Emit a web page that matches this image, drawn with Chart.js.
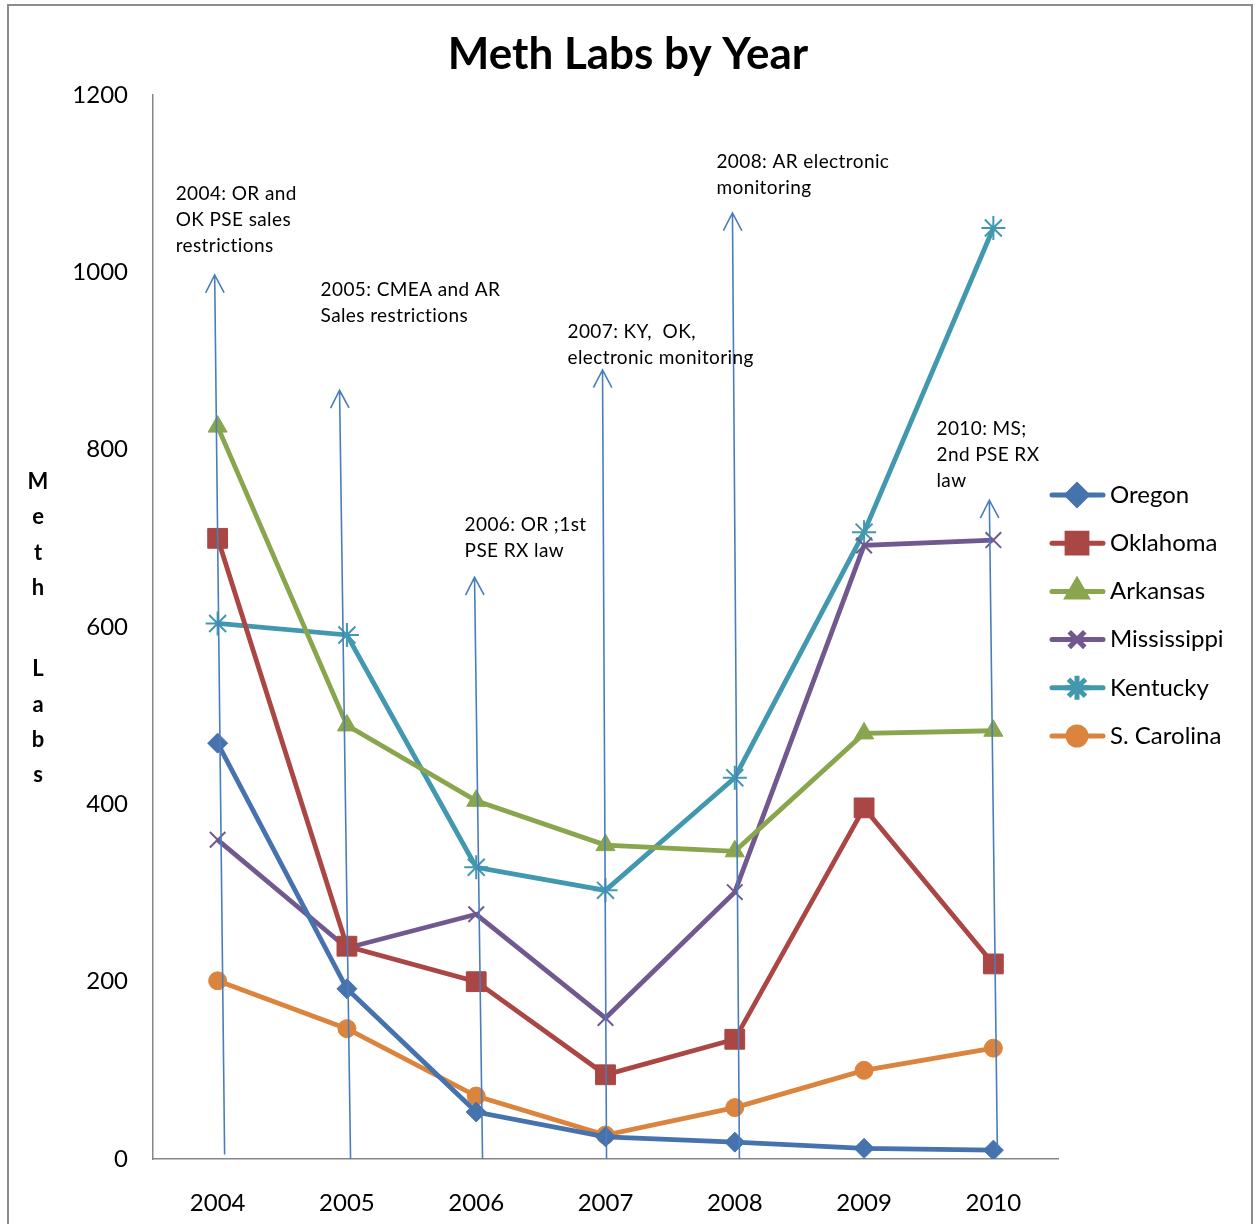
<!DOCTYPE html>
<html>
<head>
<meta charset="utf-8">
<script src="https://cdn.jsdelivr.net/npm/chart.js@4.4.1/dist/chart.umd.min.js"></script>
<style>
  html, body { margin: 0; padding: 0; background: #fff; }
  #wrap { width: 1255px; height: 1224px; position: relative; }
</style>
</head>
<body>
<div id="wrap"><canvas id="chart" width="1255" height="1224"></canvas></div>
<script>
const years = ['2004', '2005', '2006', '2007', '2008', '2009', '2010'];
const oregon = [469, 192, 53, 25, 19, 12, 10];
const oklahoma = [700, 240, 200, 95, 135, 396, 220];
const arkansas = [826, 489, 404, 354, 347, 480, 483];
const mississippi = [360, 238, 276, 159, 301, 692, 698];
const kentucky = [604, 591, 329, 303, 430, 707, 1050];
const sCarolina = [201, 147, 71, 27, 58, 100, 125];
const yTicks = [0, 200, 400, 600, 800, 1000, 1200];

// law notes: text lines plus arrow (from base to tip), x in category units
const notes = [
  { lines: ['2004: OR and', 'OK PSE sales', 'restrictions'], tx: -0.325, ty: 1088, from: [0.054, 5], to: [-0.023, 997] },
  { lines: ['2005: CMEA and AR', 'Sales restrictions'], tx: 0.796, ty: 980, from: [1.028, 0], to: [0.943, 867] },
  { lines: ['2006: OR ;1st', 'PSE RX law'], tx: 1.91, ty: 715, from: [2.049, 0], to: [1.987, 656] },
  { lines: ['2007: KY,  OK,', 'electronic monitoring'], tx: 2.706, ty: 933, from: [3.008, 0], to: [2.977, 890] },
  { lines: ['2008: AR electronic', 'monitoring'], tx: 3.858, ty: 1125, from: [4.036, 0], to: [3.982, 1067] },
  { lines: ['2010: MS;', '2nd PSE RX', 'law'], tx: 5.56, ty: 823, from: [6.031, 10], to: [5.969, 743] }
];

const FONT = 'Lato, "Open Sans", sans-serif';
const AXIS_GREY = '#868686';
const ARROW_BLUE = '#4A7EBB';

function series(label, data, color, style, radius, bw) {
  return {
    label, data,
    borderColor: color,
    backgroundColor: color,
    borderWidth: 4.8,
    pointStyle: style,
    pointRadius: radius,
    pointBorderWidth: bw,
    pointBorderColor: color,
    pointBackgroundColor: color,
    tension: 0
  };
}

function xAt(chart, v) {
  const s = chart.scales.x;
  const p0 = s.getPixelForValue(0);
  const p1 = s.getPixelForValue(1);
  return p0 + v * (p1 - p0);
}

const extras = {
  id: 'extras',
  beforeDraw(chart) {
    const ctx = chart.ctx;
    ctx.save();
    ctx.strokeStyle = '#8c8c8c';
    ctx.lineWidth = 2;
    ctx.strokeRect(8, 5, 1244, 1240);

    ctx.fillStyle = '#000';
    ctx.font = 'bold 44px ' + FONT;
    ctx.textAlign = 'center';
    ctx.textBaseline = 'middle';
    ctx.fillText('Meth Labs by Year', 628, 55);

    // stacked y-axis title
    ctx.font = 'bold 22px ' + FONT;
    const letters = ['M', 'e', 't', 'h', '', 'L', 'a', 'b', 's'];
    let y = 482;
    letters.forEach(l => {
      if (l) ctx.fillText(l, 38, y);
      y += l ? 35.3 : 46;
    });
    ctx.restore();
  },
  afterDatasetsDraw(chart) {
    const ctx = chart.ctx;
    const ys = chart.scales.y;
    ctx.save();

    // arrows
    ctx.strokeStyle = ARROW_BLUE;
    ctx.lineWidth = 1.6;
    notes.forEach(n => {
      const x1 = xAt(chart, n.from[0]), y1 = ys.getPixelForValue(n.from[1]);
      const x2 = xAt(chart, n.to[0]), y2 = ys.getPixelForValue(n.to[1]);
      ctx.beginPath();
      ctx.moveTo(x1, y1);
      ctx.lineTo(x2, y2);
      const ang = Math.atan2(y2 - y1, x2 - x1);
      const len = 20, spread = 0.48;
      ctx.moveTo(x2 - len * Math.cos(ang - spread), y2 - len * Math.sin(ang - spread));
      ctx.lineTo(x2, y2);
      ctx.lineTo(x2 - len * Math.cos(ang + spread), y2 - len * Math.sin(ang + spread));
      ctx.stroke();
    });

    // note text
    ctx.fillStyle = '#000';
    ctx.font = '19px ' + FONT;
    ctx.textAlign = 'left';
    ctx.textBaseline = 'middle';
    if ('letterSpacing' in ctx) ctx.letterSpacing = '0.4px';
    notes.forEach(n => {
      const x = xAt(chart, n.tx);
      const y0 = ys.getPixelForValue(n.ty);
      n.lines.forEach((t, i) => ctx.fillText(t, x, y0 + i * 26));
    });
    if ('letterSpacing' in ctx) ctx.letterSpacing = '0px';

    // legend
    ctx.font = '24px ' + FONT;
    chart.data.datasets.forEach((ds, i) => {
      const y = 495 + i * 48.2;
      ctx.strokeStyle = ds.borderColor;
      ctx.fillStyle = ds.borderColor;
      ctx.lineWidth = 5;
      ctx.lineCap = 'round';
      ctx.beginPath();
      ctx.moveTo(1052, y);
      ctx.lineTo(1103, y);
      ctx.stroke();
      ctx.lineCap = 'butt';
      Chart.helpers.drawPoint(ctx, {
        pointStyle: ds.pointStyle,
        radius: ds.pointRadius,
        borderWidth: ds.pointBorderWidth,
        rotation: 0
      }, 1077, y);
      ctx.fillStyle = '#000';
      ctx.fillText(ds.label, 1110, y);
    });
    ctx.restore();
  }
};

new Chart(document.getElementById('chart'), {
  type: 'line',
  data: {
    labels: years,
    datasets: [
      series('Oregon', oregon, '#4672AE', 'rectRot', 10, 1),
      series('Oklahoma', oklahoma, '#AA4643', 'rect', 14, 1),
      series('Arkansas', arkansas, '#89A54E', 'triangle', 11, 1),
      series('Mississippi', mississippi, '#71588F', 'crossRot', 11, 2),
      series('Kentucky', kentucky, '#4198AF', 'star', 12, 2),
      series('S. Carolina', sCarolina, '#DB843D', 'circle', 9, 1)
    ]
  },
  options: {
    responsive: false,
    animation: false,
    layout: { padding: { top: 95, right: 197, left: 0, bottom: 0 } },
    plugins: {
      legend: { display: false },
      tooltip: { enabled: false },
      title: { display: false }
    },
    scales: {
      x: {
        offset: true,
        grid: { display: false, drawTicks: false },
        border: { display: true, color: AXIS_GREY, width: 1.5 },
        ticks: { color: '#000', font: { family: FONT, size: 24 }, padding: 30, maxRotation: 0 },
        afterFit(scale) { scale.height = 65; }
      },
      y: {
        min: 0,
        max: 1200,
        afterBuildTicks(scale) { scale.ticks = yTicks.map(v => ({ value: v })); },
        grid: { display: false, drawTicks: false },
        border: { display: true, color: AXIS_GREY, width: 1.5 },
        ticks: {
          color: '#000',
          font: { family: FONT, size: 24 },
          padding: 25,
          callback: v => String(v)
        },
        afterFit(scale) { scale.width = 153; }
      }
    }
  },
  plugins: [extras]
});
</script>
</body>
</html>
